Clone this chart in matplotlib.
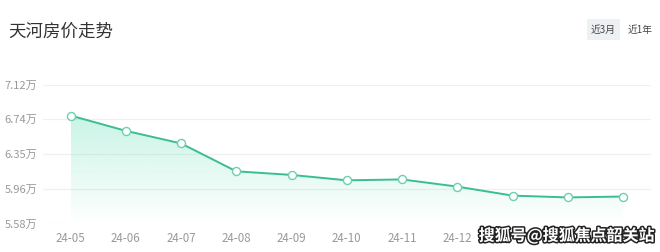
import numpy as np
import matplotlib.pyplot as plt
import matplotlib.patheffects as pe
from matplotlib.patches import FancyBboxPatch

plt.rcParams['font.family'] = ['Noto Sans CJK SC', 'DejaVu Sans']

months = ["24-05", "24-06", "24-07", "24-08", "24-09", "24-10",
          "24-11", "24-12", "25-01", "25-02", "25-03"]
prices = [6.78, 6.61, 6.47, 6.16, 6.12, 6.06, 6.07, 5.99, 5.89, 5.87, 5.88]
yticks = [5.58, 5.96, 6.35, 6.74, 7.12]
ytick_labels = ["5.58万", "5.96万", "6.35万", "6.74万", "7.12万"]
shown_months = ["24-05", "24-06", "24-07", "24-08", "24-09", "24-10",
                "24-11", "24-12"]

green = "#3bbd94"

fig = plt.figure(figsize=(6.6, 2.52), dpi=100)
ax = fig.add_axes([0.065, 0.113, 0.921, 0.55])

x = np.arange(len(months))
ax.set_xlim(-0.5, 10.5)
ax.set_ylim(5.58, 7.12)

# gradient fill under the line
poly = ax.fill_between(x, prices, 5.58, color="none")
grad = np.linspace(0.28, 0.0, 256).reshape(-1, 1)
rgba = np.zeros((256, 1, 4))
rgba[..., 0] = 0x3d / 255
rgba[..., 1] = 0xd6 / 255
rgba[..., 2] = 0xa6 / 255
rgba[..., 3] = grad
img = ax.imshow(rgba, extent=[x[0], x[-1], 5.58, max(prices)],
                aspect="auto", origin="upper", zorder=1)
img.set_clip_path(poly.get_paths()[0], transform=ax.transData)

ax.plot(x, prices, color=green, lw=1.4, zorder=3)
ax.plot(x, prices, 'o', ms=5.8, mfc="white", mec="#6fcfb0", mew=1.0,
        zorder=4)

ax.set_yticks(yticks)
ax.set_yticklabels(ytick_labels)
ax.set_xticks(x[:len(shown_months)])
ax.set_xticklabels(shown_months)
ax.grid(True, axis="y", color="#f0f0f0", lw=0.9)
ax.set_axisbelow(True)
for s in ax.spines.values():
    s.set_visible(False)
ax.tick_params(axis="x", length=0, labelsize=8.3, colors="#999999", pad=6)
ax.tick_params(axis="y", length=0, labelsize=8, colors="#999999", pad=4)

fig.text(0.012, 0.875, "天河房价走势", fontsize=12.6, color="#333333",
         va="center", ha="left")

# buttons top right
btn = FancyBboxPatch((0.889, 0.84), 0.05, 0.085, boxstyle="square,pad=0",
                     transform=fig.transFigure, fc="#eef1f4", ec="none")
fig.patches.append(btn)
fig.text(0.914, 0.882, "近3月", fontsize=7, color="#444444", ha="center",
         va="center")
fig.text(0.97, 0.882, "近1年", fontsize=7, color="#444444", ha="center",
         va="center")

# watermark
fig.text(0.992, 0.065, "搜狐号@搜狐焦点韶关站", fontsize=11.5, color="white",
         ha="right", va="center", fontweight="bold",
         path_effects=[pe.withStroke(linewidth=2.2, foreground="#222222")])

fig.savefig("out.png", dpi=100)
